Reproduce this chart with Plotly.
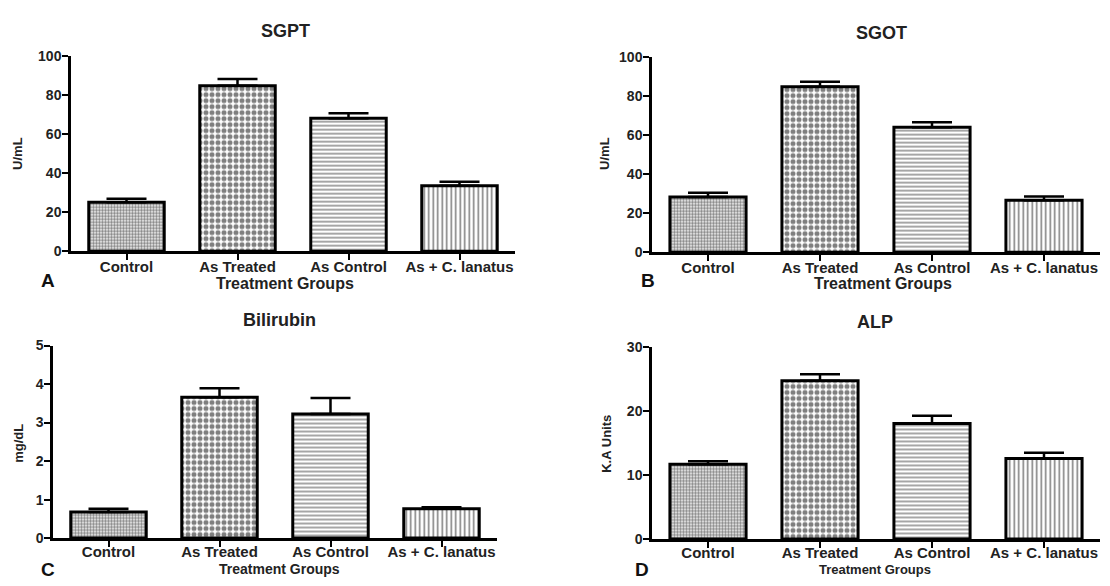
import plotly.graph_objects as go

W, H = 1110, 586

categories = ["Control", "As Treated", "As Control", "As + C. lanatus"]

sgpt = [25.0, 84.6, 68.0, 33.5]
sgpt_err = [1.8, 3.5, 2.5, 2.0]
sgot = [28.2, 84.6, 63.9, 26.5]
sgot_err = [2.2, 2.6, 2.5, 2.0]
bili = [0.68, 3.66, 3.22, 0.76]
bili_err = [0.08, 0.23, 0.42, 0.04]
alp = [11.7, 24.8, 18.1, 12.6]
alp_err = [0.5, 1.0, 1.2, 0.9]

titles = ["SGPT", "SGOT", "Bilirubin", "ALP"]
ytitles = ["U/mL", "U/mL", "mg/dL", "K.A Units"]
letters = ["A", "B", "C", "D"]
yranges = [[0, 100], [0, 100], [0, 5], [0, 30]]
ydticks = [20, 20, 1, 10]

values = [sgpt, sgot, bili, alp]
errors = [sgpt_err, sgot_err, bili_err, alp_err]

# pixel geometry of each panel: x-left, x-right, y-top, y-bottom
panels = [
    (71, 515, 49, 250),
    (652, 1100, 50, 251),
    (53, 497, 347, 545),
    (652, 1100, 349, 546),
]
standoffs = [-6, -6, -8, -8]

patterns = [
    dict(shape=".", size=3, solidity=0.6),
    dict(shape=".", size=6, solidity=0.55),
    dict(shape="-", size=4, solidity=0.35),
    dict(shape="|", size=4.5, solidity=0.35),
]

FONT = "Liberation Sans, Arial, sans-serif"

fig = go.Figure()
layout = dict(
    width=W, height=H, margin=dict(l=0, r=0, t=0, b=0),
    paper_bgcolor="white", plot_bgcolor="white", showlegend=False,
)
annotations = []

for i in range(4):
    xl, xr, yt, yb = panels[i]
    xa = "x" if i == 0 else f"x{i+1}"
    ya = "y" if i == 0 else f"y{i+1}"
    for j, cat in enumerate(categories):
        fig.add_trace(go.Bar(
            x=[cat], y=[values[i][j]], xaxis=xa, yaxis=ya, width=0.68,
            marker=dict(color="white", line=dict(color="black", width=3),
                        pattern=dict(fgcolor="black", fillmode="overlay", **patterns[j])),
            error_y=dict(type="data", symmetric=False, array=[errors[i][j]],
                         arrayminus=[0], color="black", thickness=2.5, width=20),
        ))
    axkey = "xaxis" if i == 0 else f"xaxis{i+1}"
    aykey = "yaxis" if i == 0 else f"yaxis{i+1}"
    layout[axkey] = dict(
        domain=[xl / W, xr / W], anchor=ya, type="category",
        categoryorder="array", categoryarray=categories, range=[-0.5, 3.5],
        showline=True, linecolor="black", linewidth=2.5, ticks="outside",
        ticklen=6, tickwidth=2, tickcolor="black", showgrid=False,
        ticklabelstandoff=standoffs[i],
        tickfont=dict(family=FONT, size=15, color="#222", weight="bold"), fixedrange=True,
    )
    layout[aykey] = dict(
        domain=[1 - yb / H, 1 - yt / H], anchor=xa, range=yranges[i],
        dtick=ydticks[i], tick0=0, showline=True, linecolor="black", linewidth=2.5,
        ticks="outside", ticklen=6, tickwidth=2, tickcolor="black",
        showgrid=False, zeroline=False, ticklabelstandoff=-2,
        tickfont=dict(family=FONT, size=14, color="#222", weight="bold"), fixedrange=True,
    )

# text positions (px)
title_pos = [(285, 24), (881, 26), (279, 321), (875, 323)]
ytitle_pos = [(18, 150), (605, 150), (19, 448), (607, 448)]
letter_pos = [(48, 280), (648, 280), (48, 577), (642, 577)]
xtitle_pos = [(285, 283), (883, 283), (279, None), (875, None)]
xtitle_size = [16, 16, 14, 13]

for i in range(4):
    tx, ty = title_pos[i]
    annotations.append(dict(text=f"<b>{titles[i]}</b>", x=tx / W, y=1 - ty / H,
                            xref="paper", yref="paper", showarrow=False,
                            xanchor="center", yanchor="middle",
                            font=dict(family=FONT, size=18, color="#222")))
    yx, yy = ytitle_pos[i]
    annotations.append(dict(text=f"<b>{ytitles[i]}</b>", x=yx / W, y=1 - yy / H, textangle=-90,
                            xref="paper", yref="paper", showarrow=False,
                            xanchor="center", yanchor="middle",
                            font=dict(family=FONT, size=13, color="#222")))
    lx, ly = letter_pos[i]
    annotations.append(dict(text=f"<b>{letters[i]}</b>", x=lx / W, y=1 - ly / H,
                            xref="paper", yref="paper", showarrow=False,
                            xanchor="center", yanchor="middle",
                            font=dict(family=FONT, size=19, color="#111")))
    gx, gy = xtitle_pos[i]
    if gy is None:
        annotations.append(dict(text="<b>Treatment Groups</b>", x=gx / W, y=0,
                                xref="paper", yref="paper", showarrow=False,
                                xanchor="center", yanchor="bottom", borderpad=0,
                                font=dict(family=FONT, size=xtitle_size[i], color="#222")))
    else:
        annotations.append(dict(text="<b>Treatment Groups</b>", x=gx / W, y=1 - gy / H,
                                xref="paper", yref="paper", showarrow=False,
                                xanchor="center", yanchor="middle",
                                font=dict(family=FONT, size=xtitle_size[i], color="#222")))

layout["annotations"] = annotations
fig.update_layout(**layout)
fig.write_html("out.html", config={"displayModeBar": False},
               post_script="document.body.style.margin='0';document.body.style.overflow='hidden';")
